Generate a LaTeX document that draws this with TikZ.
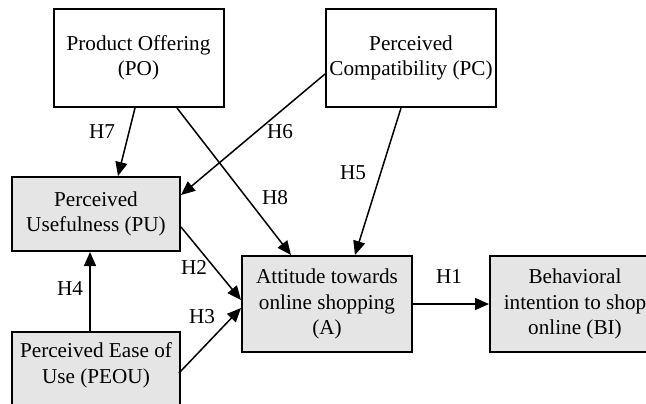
\documentclass[tikz,border=0pt]{standalone}
\usepackage{fontspec}
\setmainfont{Liberation Serif}
\usetikzlibrary{calc,arrows.meta}

\begin{document}
\begin{tikzpicture}[x=0.5pt, y=-0.5pt,
        box/.style={draw, line width=1pt, align=center, inner sep=0pt, minimum width=85pt, font=\fontsize{10.6}{12.7}\selectfont},
        greybox/.style={box, fill=black!10},
        arr/.style={line width=0.75pt, -{Triangle[length=7pt, width=6pt]}},
        lbl/.style={font=\fontsize{10.6}{12.7}\selectfont, inner sep=0pt}]
        \useasboundingbox (0, 0) rectangle (646, 403);
        \clip (0, 0) rectangle (646, 403);
        \node[box, minimum height=49pt] (po) at (138.5, 58) {Product Offering\\(PO)};
        \node[box, minimum height=49pt] (pc) at (411, 58) {Perceived\\Compatibility (PC)};
        \node[greybox, minimum width=84pt, minimum height=37pt] (pu) at (96, 214) {Perceived\\Usefulness (PU)};
        \node[greybox, minimum width=84pt, minimum height=37pt, text depth=6pt] (peou) at (96, 369) {Perceived Ease of\\Use (PEOU)};
        \node[greybox, minimum height=48pt] (a) at (327, 304) {Attitude towards\\online shopping\\(A)};
        \node[greybox, minimum height=48pt] (bi) at (575, 304) {Behavioral\\intention to shop\\online (BI)};
        \draw[arr] ($(po.south)+(-3.5, 0)$) -- ($(pu.north)+(22, 0)$);
        \draw[arr] ($(po.south)+(38.5, 0)$) -- ($(a.north)+(-36, 0)$);
        \draw[arr] ($(pc.west)+(0, 16)$) -- ($(pu.east)+(0, -19)$);
        \draw[arr] ($(pc.south)+(-10, 0)$) -- ($(a.north)+(28, 0)$);
        \draw[arr] ($(pu.east)+(0, 13)$) -- ($(a.west)+(0, -4)$);
        \draw[arr] ($(peou.east)+(-2, 4)$) -- ($(a.west)+(0, 4)$);
        \draw[arr] ($(peou.north)+(-6, 0)$) -- ($(pu.south)+(-6, 0)$);
        \draw[arr] (a.east) -- (bi.west);
        \node[lbl] (h7) at (102, 132) {H7};
        \node[lbl] (h6) at (280, 132) {H6};
        \node[lbl] (h8) at (275, 198) {H8};
        \node[lbl] (h5) at (353, 173) {H5};
        \node[lbl] (h2) at (194, 267) {H2};
        \node[lbl] (h4) at (70, 289) {H4};
        \node[lbl] (h3) at (202, 317) {H3};
        \node[lbl] (h1) at (449, 276) {H1};
    \end{tikzpicture}
\end{document}
